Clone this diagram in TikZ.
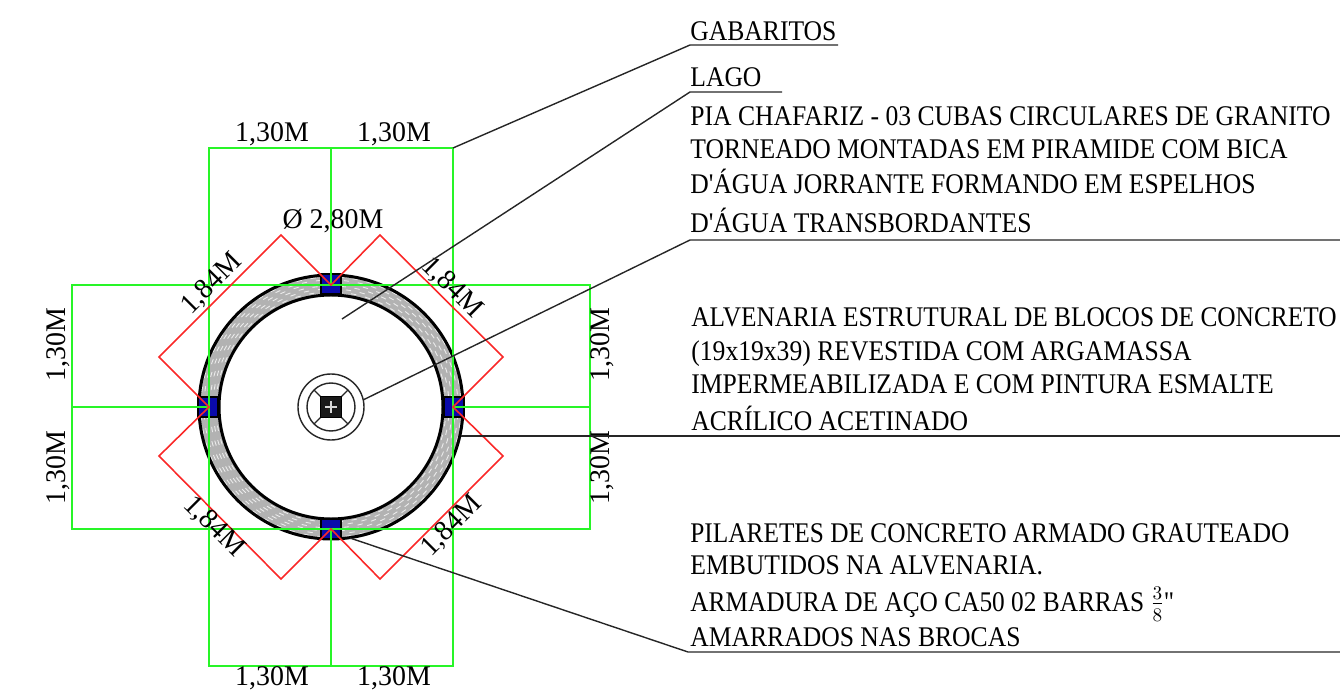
\documentclass[tikz,border=0pt]{standalone}
\usepackage{fontspec}
\newfontfamily\labelfont[FakeStretch=0.9]{Liberation Serif}
\newfontfamily\longfont[FakeStretch=0.89]{Liberation Serif}
\newfontfamily\cotafont[FakeStretch=0.98]{Liberation Serif}
\definecolor{cotaverde}{RGB}{40,245,40}
\definecolor{cotavermelha}{RGB}{250,40,40}
\definecolor{pilarazul}{RGB}{10,10,170}
\tikzset{
	rotulo/.style = {anchor=base west, inner sep=0pt, font=\labelfont\fontsize{16.2}{18}\selectfont},
	longo/.style = {rotulo, font=\longfont\fontsize{16.2}{18}\selectfont},
	cota/.style = {inner sep=0pt, font=\cotafont\fontsize{16.2}{18}\selectfont},
	verde/.style = {draw=cotaverde, line width=0.9pt},
	vermelho/.style = {draw=cotavermelha, line width=0.9pt},
	chamada/.style = {draw=black!85, line width=0.8pt},
	pilar/.style = {draw=black, line width=1.4pt, fill=pilarazul, minimum width=11.4pt, minimum height=11.4pt, inner sep=0pt}
}
\begin{document}
\begin{tikzpicture}[x=0.02cm, y=-0.02cm]
	\useasboundingbox (0,0) rectangle (1340,699);
	\coordinate (c) at (331,407);
	
	% anel de alvenaria
	\fill[gray!60, even odd rule] (c) circle (132) (c) circle (112);
	\foreach \r/\o in {115/0,118/3,121/6,124/1,127/4,130/7} {
		\draw[white!85!gray, line width=0.5pt, dash pattern=on 3pt off 5pt, dash phase=\o pt] (c) circle (\r);
	}
	\draw[black, line width=1.7pt] (c) circle (132);
	\draw[black, line width=1.7pt] (c) circle (112);
	
	% pilaretes
	\node[pilar] (pt) at (331,284) {};
	\node[pilar] (pb) at (331,529) {};
	\node[pilar] (pl) at (208,407) {};
	\node[pilar] (pr) at (454,407) {};
	
	% cubas
	\draw[black!85, line width=0.8pt] (c) circle (33);
	\draw[black!85, line width=0.8pt] (c) circle (24);
	\draw[black!85, line width=0.8pt] (314,390) -- (348,424);
	\draw[black!85, line width=0.8pt] (348,390) -- (314,424);
	\node[draw=black, fill=black!90, minimum width=12pt, minimum height=12pt, inner sep=0pt] (bica) at (c) {};
	\draw[white!70!gray, line width=0.7pt] (325,407) -- (337,407);
	\draw[white!70!gray, line width=0.7pt] (331,401) -- (331,413);
	
	% gabaritos
	\draw[verde] (209,148) rectangle (453,666);
	\draw[verde] (72,285) rectangle (590,529);
	\draw[verde] (331,148) -- (331,285);
	\draw[verde] (331,529) -- (331,666);
	\draw[verde] (72,407) -- (209,407);
	\draw[verde] (453,407) -- (590,407);
	\draw[vermelho] (331,285) -- (380,235) -- (503,357) -- (453,407) -- (503,456) -- (380,579) -- (331,529) -- (281,579) -- (159,456) -- (209,407) -- (159,357) -- (281,235) -- cycle;
	
	% cotas
	\node[cota] (a1) at (272,134) {1,30M};
	\node[cota] (a2) at (394,134) {1,30M};
	\node[cota] (a3) at (272,678) {1,30M};
	\node[cota] (a4) at (394,678) {1,30M};
	\node[cota, rotate=90] (a5) at (58,345) {1,30M};
	\node[cota, rotate=90] (a6) at (58,468) {1,30M};
	\node[cota, rotate=90] (a7) at (602,345) {1,30M};
	\node[cota, rotate=90] (a8) at (602,468) {1,30M};
	\node[cota, rotate=45] (d1) at (212,284) {1,84M};
	\node[cota, rotate=-45] (d2) at (452,288) {1,84M};
	\node[cota, rotate=-45] (d3) at (214,527) {1,84M};
	\node[cota, rotate=45] (d4) at (452,526) {1,84M};
	\node[cota] (diam) at (333,221) {Ø 2,80M};
	
	% textos
	\node[rotulo] (gab) at (690,41) {GABARITOS};
	\node[rotulo] (lago) at (690,87) {LAGO};
	\node[rotulo] (pia1) at (690,126) {PIA CHAFARIZ - 03 CUBAS CIRCULARES DE GRANITO};
	\node[rotulo] (pia2) at (690,159) {TORNEADO MONTADAS EM PIRAMIDE COM BICA};
	\node[rotulo] (pia3) at (690,194) {D'ÁGUA JORRANTE FORMANDO EM ESPELHOS};
	\node[rotulo] (pia4) at (690,233) {D'ÁGUA TRANSBORDANTES};
	\node[longo] (alv1) at (691,327) {ALVENARIA ESTRUTURAL DE BLOCOS DE CONCRETO};
	\node[rotulo] (alv2) at (691,361) {(19x19x39) REVESTIDA COM ARGAMASSA};
	\node[rotulo] (alv3) at (691,394) {IMPERMEABILIZADA E COM PINTURA ESMALTE};
	\node[rotulo] (alv4) at (691,431) {ACRÍLICO ACETINADO};
	\node[longo] (pil1) at (690,542) {PILARETES DE CONCRETO ARMADO GRAUTEADO};
	\node[rotulo] (pil2) at (690,574) {EMBUTIDOS NA ALVENARIA.};
	\node[longo] (pil3) at (690,611) {ARMADURA DE AÇO CA50 02 BARRAS $\frac{3}{8}$''};
	\node[rotulo] (pil4) at (690,646) {AMARRADOS NAS BROCAS};
	
	% linhas de chamada
	\coordinate (g0) at (453,148);
	\coordinate (g1) at (690,45);
	\coordinate (g2) at (838,45);
	\coordinate (l0) at (342,319);
	\coordinate (l1) at (690,92);
	\coordinate (l2) at (782,92);
	\coordinate (p0) at (363,400);
	\coordinate (p1) at (690,240);
	\coordinate (p2) at (1340,240);
	\coordinate (v0) at (461,436);
	\coordinate (v1) at (1340,436);
	\coordinate (b0) at (350,538);
	\coordinate (b1) at (688,652);
	\coordinate (b2) at (1340,652);
	\draw[chamada] (g0) -- (g1) -- (g2);
	\draw[chamada] (l0) -- (l1) -- (l2);
	\draw[chamada] (p0) -- (p1) -- (p2);
	\draw[chamada] (v0) -- (v1);
	\draw[chamada] (b0) -- (b1) -- (b2);
	
\end{tikzpicture}
\end{document}
